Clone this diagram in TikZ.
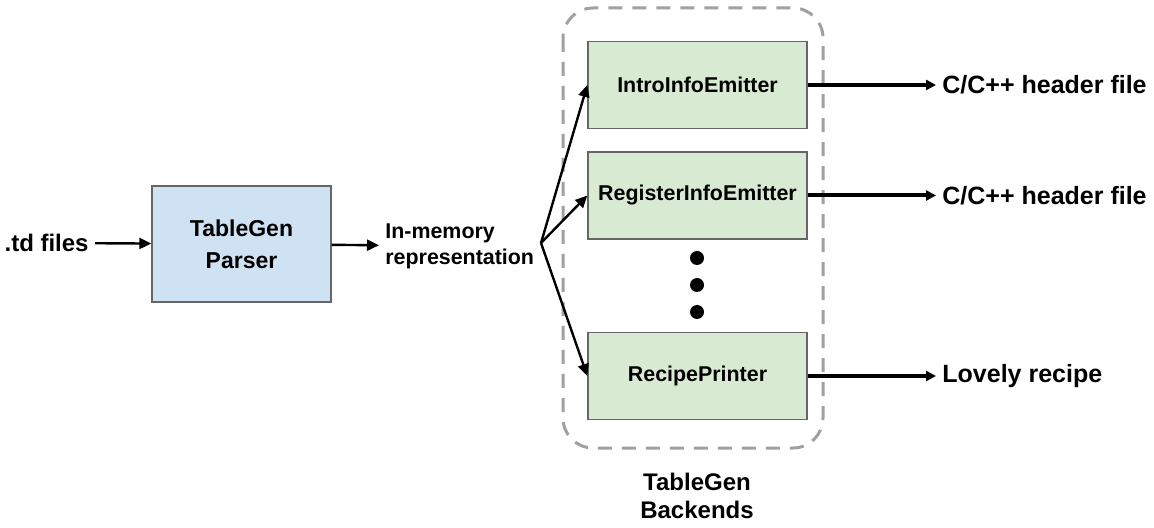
\documentclass[tikz,border=0pt]{standalone}
\usepackage{fontspec}
\setmainfont{Liberation Sans}
\usetikzlibrary{arrows.meta}

\definecolor{parserblue}{HTML}{CFE2F3}
\definecolor{backendgreen}{HTML}{D9EAD3}
\definecolor{boxgray}{HTML}{666666}
\definecolor{dashgray}{HTML}{A0A0A0}

\begin{document}
\begin{tikzpicture}[x=0.5pt,y=-0.5pt,
    txt/.style={inner sep=3pt,font=\fontsize{12.5pt}{14pt}\selectfont\bfseries},
    parserbox/.style={draw=boxgray,line width=0.7pt,fill=parserblue,
      minimum width=89.5pt,minimum height=58pt,align=center,
      font=\fontsize{11.5pt}{16pt}\selectfont\bfseries},
    backendbox/.style={draw=boxgray,line width=0.7pt,fill=backendgreen,
      minimum width=109.5pt,minimum height=43.5pt,
      font=\fontsize{10.7pt}{12pt}\selectfont\bfseries},
    thin/.style={line width=1.2pt,-{Triangle[length=6pt,width=5.5pt]}},
    thick/.style={line width=2pt,-{Triangle[length=5pt,width=5pt]}}]

	\useasboundingbox (0,0) rectangle (1154,528);

	\draw[dashgray,line width=1.5pt,dash pattern=on 7pt off 5pt,
        rounded corners=15pt] (563,8) rectangle (823,448);

	\node[txt,anchor=east,font=\fontsize{12pt}{14pt}\selectfont\bfseries]
        (files) at (95,243) {.td files};
	\node[parserbox] (parser) at (241.5,244) {TableGen\\Parser};
	\node[txt,anchor=west,align=left,
        font=\fontsize{10.7pt}{13pt}\selectfont\bfseries] (mem)
        at (379,246) {In-memory\\representation};
	\coordinate (fork) at (541,243);

	\node[backendbox] (intro) at (697.5,85) {IntroInfoEmitter};
	\node[backendbox] (register) at (697.5,195.5) {RegisterInfoEmitter};
	\node[backendbox] (recipe) at (697.5,376) {RecipePrinter};
	\foreach \y in {258,285,312} \fill (697,\y) circle(3.5pt);

	\node[txt,anchor=west] (hdrA) at (936,85) {C/C++ header file};
	\node[txt,anchor=west] (hdrB) at (936,195.5) {C/C++ header file};
	\node[txt,anchor=west] (lovely) at (936,376) {Lovely recipe};
	\node[txt,align=center,font=\fontsize{12pt}{14pt}\selectfont\bfseries]
        (backends) at (697,496) {TableGen\\Backends};

	\draw[thin] (files) -- (parser); \draw[thin] (parser) --
        (mem); \draw[thin] (fork) -- (intro.west); \draw[thin]
        (fork) -- (register.west); \draw[thin] (fork) --
        (recipe.west);

	\draw[thick] (intro) -- (hdrA); \draw[thick] (register) --
        (hdrB); \draw[thick] (recipe) -- (lovely);
      \end{tikzpicture}
\end{document}
